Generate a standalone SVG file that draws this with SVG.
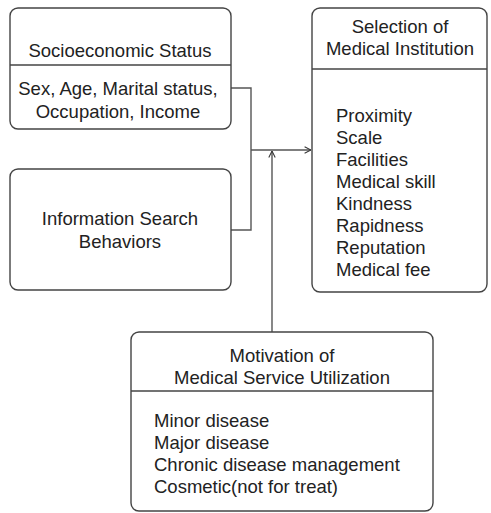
<svg xmlns="http://www.w3.org/2000/svg" width="491" height="513" viewBox="0 0 491 513">
<defs>
<marker id="arr" viewBox="0 0 10 10" refX="10" refY="5" markerWidth="8" markerHeight="8" markerUnits="userSpaceOnUse" orient="auto">
<path d="M2,1 L10,5 L2,9" fill="none" stroke="#333" stroke-width="1.3"/>
</marker>
</defs>
<style>
.box{fill:#fff;stroke:#444;stroke-width:1.4}
.div{stroke:#444;stroke-width:1.4}
.t{font-family:"Liberation Sans",Arial,sans-serif;font-size:18.5px;fill:#222}
.c{text-anchor:middle}
.ln{fill:none;stroke:#555;stroke-width:1.4}
</style>
<g id="connectors">
<polyline class="ln" points="231,88 251,88 251,230 231,230"/>
<line class="ln" x1="251" y1="150" x2="311" y2="150" marker-end="url(#arr)"/>
<line class="ln" x1="272" y1="332" x2="272" y2="151" marker-end="url(#arr)"/>
</g>
<g id="socioeconomic">
<rect class="box" x="10" y="8" width="221" height="121" rx="8"/>
<line class="div" x1="10" y1="65" x2="231" y2="65"/>
<text class="t c" x="120" y="57">Socioeconomic Status</text>
<text class="t c" x="118" y="95">Sex, Age, Marital status,</text>
<text class="t c" x="118" y="118">Occupation, Income</text>
</g>
<g id="information">
<rect class="box" x="10" y="169" width="221" height="121" rx="8"/>
<text class="t c" x="120" y="225">Information Search</text>
<text class="t c" x="120" y="248">Behaviors</text>
</g>
<g id="selection">
<rect class="box" x="312" y="8" width="175" height="284" rx="8"/>
<line class="div" x1="312" y1="69" x2="487" y2="69"/>
<text class="t c" x="400" y="33">Selection of</text>
<text class="t c" x="400" y="55">Medical Institution</text>
<text class="t" x="336" y="122">Proximity</text>
<text class="t" x="336" y="144">Scale</text>
<text class="t" x="336" y="166">Facilities</text>
<text class="t" x="336" y="188">Medical skill</text>
<text class="t" x="336" y="210">Kindness</text>
<text class="t" x="336" y="232">Rapidness</text>
<text class="t" x="336" y="254">Reputation</text>
<text class="t" x="336" y="276">Medical fee</text>
</g>
<g id="motivation">
<rect class="box" x="131" y="332" width="302" height="179" rx="8"/>
<line class="div" x1="131" y1="391" x2="433" y2="391"/>
<text class="t c" x="282" y="362">Motivation of</text>
<text class="t c" x="282" y="384">Medical Service Utilization</text>
<text class="t" x="154" y="427">Minor disease</text>
<text class="t" x="154" y="449">Major disease</text>
<text class="t" x="154" y="471">Chronic disease management</text>
<text class="t" x="154" y="493">Cosmetic(not for treat)</text>
</g>
</svg>
